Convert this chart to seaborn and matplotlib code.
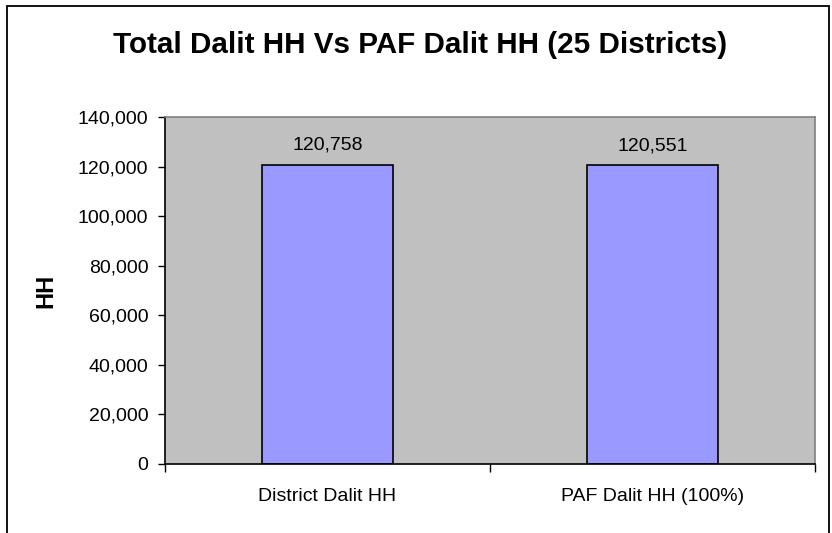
import matplotlib
matplotlib.use("Agg")
import matplotlib.pyplot as plt
import seaborn as sns
import pandas as pd
from matplotlib.patches import Rectangle
from matplotlib.ticker import FuncFormatter, FixedLocator

# Chart data
categories = ["District Dalit HH", "PAF Dalit HH (100%)"]
households = [120758, 120551]
y_ticks = [0, 20000, 40000, 60000, 80000, 100000, 120000, 140000]

df = pd.DataFrame({"category": categories, "HH": households})

sns.set_style("white")
plt.rcParams["font.family"] = ["Liberation Sans", "DejaVu Sans"]
plt.rcParams["text.color"] = "black"
plt.rcParams["axes.labelcolor"] = "black"
plt.rcParams["xtick.color"] = "black"
plt.rcParams["ytick.color"] = "black"

fig = plt.figure(figsize=(8.32, 5.33), dpi=100)
ax = fig.add_axes([165 / 832, 69 / 533, 650 / 832, 347 / 533])

sns.barplot(data=df, x="category", y="HH", color="#9999FF", saturation=1,
            edgecolor="black", linewidth=1.2, width=0.405, ax=ax)

ax.set_facecolor("#C0C0C0")
ax.set_ylim(0, 140000)
ax.set_xlim(-0.5, 1.5)
ax.set_yticks(y_ticks)
ax.yaxis.set_major_formatter(FuncFormatter(lambda v, p: f"{v:,.0f}"))
ax.tick_params(axis="y", direction="out", length=5, width=1, color="black",
               labelcolor="black", labelsize=14, pad=7, left=True)
ax.tick_params(axis="x", length=0, labelsize=14, labelcolor="black", pad=17)
ax.xaxis.set_minor_locator(FixedLocator([-0.5, 0.5, 1.5]))
ax.tick_params(axis="x", which="minor", direction="out", length=6, width=1,
               color="black", bottom=True)

for side in ["top", "right"]:
    ax.spines[side].set_visible(True)
    ax.spines[side].set_color("#808080")
    ax.spines[side].set_linewidth(1.2)
for side in ["left", "bottom"]:
    ax.spines[side].set_color("black")
    ax.spines[side].set_linewidth(1.2)

ax.set_xlabel("")
ax.set_ylabel("HH", fontsize=17, fontweight="bold", color="black")
ax.yaxis.set_label_coords(-108 / 650, 0.5)

for container in ax.containers:
    ax.bar_label(container, labels=[f"{v:,.0f}" for v in households],
                 padding=8, fontsize=14, color="black")

fig.text(420 / 832, 1 - 53 / 533, "Total Dalit HH Vs PAF Dalit HH (25 Districts)",
         ha="center", va="baseline", fontsize=21.3, fontweight="bold", color="black")

# outer chart border
fig.patches.append(Rectangle((7 / 832, -0.02), 822 / 832, 1 - 6 / 533 + 0.02,
                             transform=fig.transFigure, fill=False,
                             edgecolor="black", linewidth=1.3))

fig.savefig("out.png", dpi=100)
